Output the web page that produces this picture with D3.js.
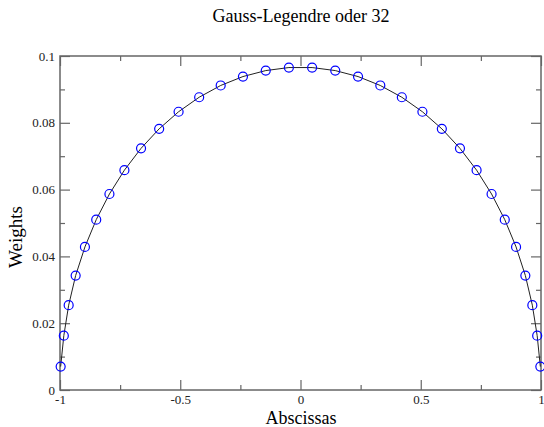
<!DOCTYPE html>
<html>
<head>
<meta charset="utf-8">
<script src="https://cdn.jsdelivr.net/npm/d3@7"></script>
<style>
  body { margin: 0; background: #fff; }
  text { font-family: "Liberation Serif", "DejaVu Serif", serif; }
</style>
</head>
<body>
<div id="chart-area"></div>
<script>
// Gauss-Legendre order 32: abscissas and weights
const abscissas = [
  -0.9972638618, -0.9841245837, -0.9639719273, -0.9349060759, -0.8963211558,
  -0.8493676137, -0.7944837960, -0.7321821187, -0.6630442669, -0.5877157572,
  -0.5068999089, -0.4213512761, -0.3318686023, -0.2392873623, -0.1444719616,
  -0.0483076657,
  0.0483076657, 0.1444719616, 0.2392873623, 0.3318686023, 0.4213512761,
  0.5068999089, 0.5877157572, 0.6630442669, 0.7321821187, 0.7944837960,
  0.8493676137, 0.8963211558, 0.9349060759, 0.9639719273, 0.9841245837,
  0.9972638618
];
const weights = [
  0.0070186100, 0.0162743947, 0.0253920653, 0.0342738629, 0.0428358980,
  0.0509980593, 0.0586840935, 0.0658222228, 0.0723457941, 0.0781938958,
  0.0833119242, 0.0876520930, 0.0911738787, 0.0938443991, 0.0956387201,
  0.0965400885,
  0.0965400885, 0.0956387201, 0.0938443991, 0.0911738787, 0.0876520930,
  0.0833119242, 0.0781938958, 0.0723457941, 0.0658222228, 0.0586840935,
  0.0509980593, 0.0428358980, 0.0342738629, 0.0253920653, 0.0162743947,
  0.0070186100
];
const xTicks = [-1, -0.5, 0, 0.5, 1];
const xMinor = [-0.75, -0.25, 0.25, 0.75];
const yTicks = [0, 0.02, 0.04, 0.06, 0.08, 0.1];
const yMinor = [0.01, 0.03, 0.05, 0.07, 0.09];

const W = 544, H = 427;
const margin = { left: 60, right: 3, top: 56, bottom: 37 };
const width = W - margin.left - margin.right;
const height = H - margin.top - margin.bottom;

const data = abscissas.map((x, i) => ({ x: x, w: weights[i] }));

const x = d3.scaleLinear().domain([-1, 1]).range([0, width]);
const y = d3.scaleLinear().domain([0, 0.1]).range([height, 0]);

const svg = d3.select('#chart-area').append('svg')
  .attr('width', W)
  .attr('height', H);

const g = svg.append('g')
  .attr('transform', `translate(${margin.left}, ${margin.top})`);

const axisColor = '#666';
const major = 10, minor = 5;
const fmt = d => String(d);

function styleAxis(sel) {
  sel.attr('font-family', null).attr('font-size', null);
  sel.select('.domain').remove();
  sel.selectAll('line').attr('stroke', axisColor).attr('stroke-width', 1.2);
  sel.selectAll('text')
    .attr('fill', '#222')
    .style('font-size', '13px');
}

// bottom
g.append('g').attr('transform', `translate(0, ${height})`)
  .call(d3.axisBottom(x).tickValues(xTicks).tickFormat(fmt).tickSize(-major).tickPadding(5))
  .call(styleAxis);
g.append('g').attr('transform', `translate(0, ${height})`)
  .call(d3.axisBottom(x).tickValues(xMinor).tickFormat('').tickSize(-minor))
  .call(styleAxis);
// top
g.append('g')
  .call(d3.axisTop(x).tickValues(xTicks).tickFormat('').tickSize(-major))
  .call(styleAxis);
g.append('g')
  .call(d3.axisTop(x).tickValues(xMinor).tickFormat('').tickSize(-minor))
  .call(styleAxis);
// left
g.append('g')
  .call(d3.axisLeft(y).tickValues(yTicks).tickFormat(fmt).tickSize(-major).tickPadding(5))
  .call(styleAxis);
g.append('g')
  .call(d3.axisLeft(y).tickValues(yMinor).tickFormat('').tickSize(-minor))
  .call(styleAxis);
// right
g.append('g').attr('transform', `translate(${width}, 0)`)
  .call(d3.axisRight(y).tickValues(yTicks).tickFormat('').tickSize(-major))
  .call(styleAxis);
g.append('g').attr('transform', `translate(${width}, 0)`)
  .call(d3.axisRight(y).tickValues(yMinor).tickFormat('').tickSize(-minor))
  .call(styleAxis);

// frame
g.append('rect')
  .attr('width', width)
  .attr('height', height)
  .attr('fill', 'none')
  .attr('stroke', axisColor)
  .attr('stroke-width', 1.5);

// line
const line = d3.line().x(d => x(d.x)).y(d => y(d.w));
g.append('path')
  .datum(data)
  .attr('d', line)
  .attr('fill', 'none')
  .attr('stroke', '#222')
  .attr('stroke-width', 1);

// circles
g.selectAll('circle')
  .data(data)
  .enter().append('circle')
    .attr('cx', d => x(d.x))
    .attr('cy', d => y(d.w))
    .attr('r', 4.5)
    .attr('fill', 'none')
    .attr('stroke', '#0000ff')
    .attr('stroke-width', 1.2);

// title and axis labels
svg.append('text')
  .attr('x', 301).attr('y', 22)
  .attr('text-anchor', 'middle')
  .style('font-size', '18px')
  .text('Gauss-Legendre oder 32');

svg.append('text')
  .attr('x', 301).attr('y', 424)
  .attr('text-anchor', 'middle')
  .style('font-size', '18px')
  .text('Abscissas');

svg.append('text')
  .attr('transform', 'translate(22, 237) rotate(-90)')
  .attr('text-anchor', 'middle')
  .style('font-size', '19px')
  .text('Weights');
</script>
</body>
</html>
